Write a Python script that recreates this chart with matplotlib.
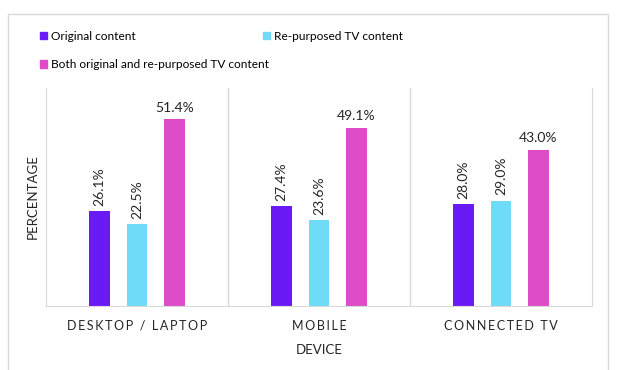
import numpy as np
import matplotlib.pyplot as plt
from matplotlib.patches import Rectangle, Patch

plt.rcParams['font.family'] = ['Lato', 'DejaVu Sans']

devices = ['DESKTOP / LAPTOP', 'MOBILE', 'CONNECTED TV']
series = ['Original content', 'Re-purposed TV content',
          'Both original and re-purposed TV content']
original = [26.1, 27.4, 28.0]
repurposed = [22.5, 23.6, 29.0]
both = [51.4, 49.1, 43.0]
colors = ['#6A1BF5', '#6EDCF8', '#DE4CC8']


def spaced(s):
    return '\u2009'.join(s)


fig = plt.figure(figsize=(6.22, 3.70), dpi=100)
fig.add_artist(Rectangle((8 / 622, -0.1), 600 / 622, 1 - 14 / 370 + 0.1,
                         transform=fig.transFigure, fill=False,
                         edgecolor='#D9D9D9', linewidth=1))

ax = fig.add_axes([46 / 622, 1 - 306 / 370, 546 / 622, 218 / 370])
x = np.arange(len(devices))
w = 0.11
off = 0.206
data = [original, repurposed, both]
for i, (vals, c) in enumerate(zip(data, colors)):
    bars = ax.bar(x + (i - 1) * off, vals, width=w, color=c)
    for b, v in zip(bars, vals):
        cx = b.get_x() + b.get_width() / 2
        if i < 2:
            ax.text(cx, v + 1.5, f'{v:.1f}%', rotation=90, ha='center',
                    va='bottom', fontsize=10, color='#262626')
        else:
            ax.text(cx, v + 1.5, f'{v:.1f}%', ha='center', va='bottom',
                    fontsize=10, color='#262626')

ax.set_xlim(-0.5, 2.5)
ax.set_ylim(0, 60)
ax.set_yticks([])
ax.set_xticks(x)
ax.set_xticklabels([spaced(d) for d in devices], fontsize=9, color='#262626')
ax.tick_params(axis='x', length=0, pad=10)
for s in ['left', 'right', 'bottom']:
    ax.spines[s].set_color('#D9D9D9')
ax.spines['top'].set_visible(False)
for sep in [0.5, 1.5]:
    ax.axvline(sep, color='#D9D9D9', linewidth=1)
ax.set_xlabel('DEVICE', fontsize=9.5, color='#262626', labelpad=9)
ax.set_ylabel('PERCENTAGE', fontsize=9.5, color='#262626', labelpad=5)

handles = [Patch(color=c) for c in colors]
kw = dict(loc='upper left', frameon=False, fontsize=8.6, handlelength=0.55,
          handleheight=0.55, handletextpad=0.35, borderpad=0,
          labelspacing=1.45)
fig.legend([handles[0], handles[2]], [series[0], series[2]],
           bbox_to_anchor=(34 / 622, 1 - 25 / 370), **kw)
fig.legend([handles[1]], [series[1]],
           bbox_to_anchor=(257 / 622, 1 - 25 / 370), **kw)

fig.savefig('out.png', dpi=100)
